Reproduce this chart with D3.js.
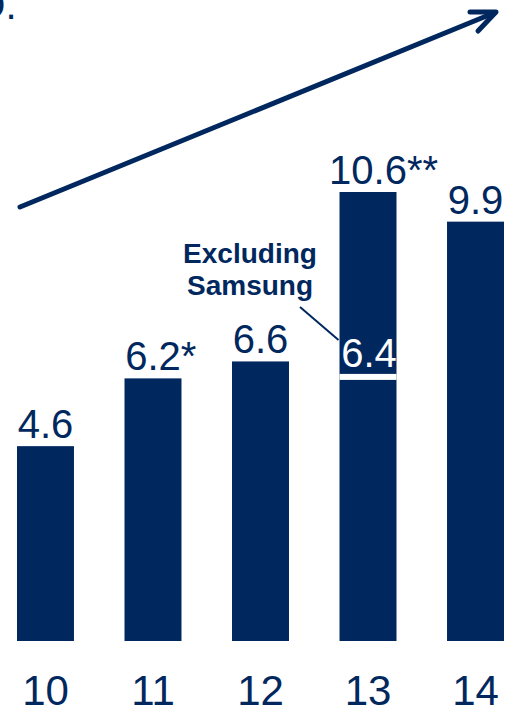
<!DOCTYPE html>
<html>
<head>
<meta charset="utf-8">
<script src="https://cdn.jsdelivr.net/npm/d3@7"></script>
<style>
  html, body { margin: 0; padding: 0; background: #fff; }
  svg { display: block; }
  text { font-family: "Liberation Sans", Arial, sans-serif; }
</style>
</head>
<body>
<script>
// Yearly values (two-digit years)
const years = ["10", "11", "12", "13", "14"];
const totals = [4.6, 6.2, 6.6, 10.6, 9.9];
const footnoteMarks = ["", "*", "", "**", ""];
// Inner split for 2013: value without Samsung
const excludingYear = "13";
const excludingValue = 6.4;
const excludingText = ["Excluding", "Samsung"];

const W = 505, H = 710;
const navy = "#00285e";

const svg = d3.select("body").append("svg")
  .attr("width", W).attr("height", H);

const x = d3.scaleBand()
  .domain(years)
  .range([17, 504])
  .paddingInner(0.47)
  .paddingOuter(0);

const y = d3.scaleLinear()
  .domain([0, 10.6])
  .range([641, 192]);

// Clipped heading fragment at the top-left corner
svg.append("text")
  .attr("x", -23.5).attr("y", 19)
  .attr("font-size", 40)
  .attr("fill", navy)
  .text("D.");

// Growth arrow
const arrow = svg.append("g")
  .attr("stroke", navy)
  .attr("stroke-width", 5)
  .attr("stroke-linecap", "round")
  .attr("stroke-linejoin", "round")
  .attr("fill", "none");
arrow.append("line")
  .attr("x1", 20).attr("y1", 207)
  .attr("x2", 495).attr("y2", 12.5);
arrow.append("polyline")
  .attr("points", "470,12 496,12 478,31");

// Bars
const data = years.map((yr, i) => ({ yr, v: totals[i], mark: footnoteMarks[i] }));

svg.selectAll("rect.bar")
  .data(data)
  .join("rect")
  .attr("class", "bar")
  .attr("x", d => x(d.yr))
  .attr("y", d => y(d.v))
  .attr("width", x.bandwidth())
  .attr("height", d => y(0) - y(d.v))
  .attr("fill", navy);

// White divider marking the part excluding Samsung
const splitY = y(excludingValue) + 4;
svg.append("rect")
  .attr("x", x(excludingYear))
  .attr("y", splitY)
  .attr("width", x.bandwidth())
  .attr("height", 6)
  .attr("fill", "#fff");

// Value labels with footnote marks
const labels = svg.selectAll("g.vlabel")
  .data(data)
  .join("g")
  .attr("class", "vlabel");

labels.each(function(d) {
  const g = d3.select(this);
  const cx = x(d.yr) + x.bandwidth() / 2;
  const by = y(d.v) - 8;
  const t = g.append("text")
    .attr("x", cx).attr("y", by)
    .attr("text-anchor", "middle")
    .attr("font-size", 40)
    .attr("fill", navy)
    .text(d3.format(".1f")(d.v));
  if (d.mark) {
    const w = t.node().getComputedTextLength();
    g.append("text")
      .attr("x", cx + w / 2).attr("y", by)
      .attr("font-size", 40)
      .attr("fill", navy)
      .text(d.mark);
  }
});

// Inner value label
svg.append("text")
  .attr("x", x(excludingYear) + x.bandwidth() / 2 + 1)
  .attr("y", splitY - 7)
  .attr("text-anchor", "middle")
  .attr("font-size", 40)
  .attr("fill", "#fff")
  .text(d3.format(".1f")(excludingValue));

// Callout
svg.append("text")
  .attr("x", 250)
  .attr("font-size", 28)
  .attr("font-weight", "bold")
  .attr("fill", navy)
  .attr("text-anchor", "middle")
  .selectAll("tspan")
  .data(excludingText)
  .join("tspan")
  .attr("x", 250)
  .attr("y", (d, i) => 263 + i * 32)
  .text(d => d);

svg.append("line")
  .attr("x1", 300).attr("y1", 307)
  .attr("x2", x(excludingYear) - 1).attr("y2", 340)
  .attr("stroke", navy)
  .attr("stroke-width", 2);

// Category axis
const axis = d3.axisBottom(x).tickSize(0).tickPadding(0);
const gx = svg.append("g")
  .attr("transform", "translate(0,675)")
  .call(axis);
gx.select(".domain").remove();
gx.selectAll("text")
  .attr("font-size", 42)
  .attr("font-family", "'Liberation Sans', Arial, sans-serif")
  .attr("fill", navy)
  .attr("dy", 0)
  .attr("y", 30);
</script>
</body>
</html>
